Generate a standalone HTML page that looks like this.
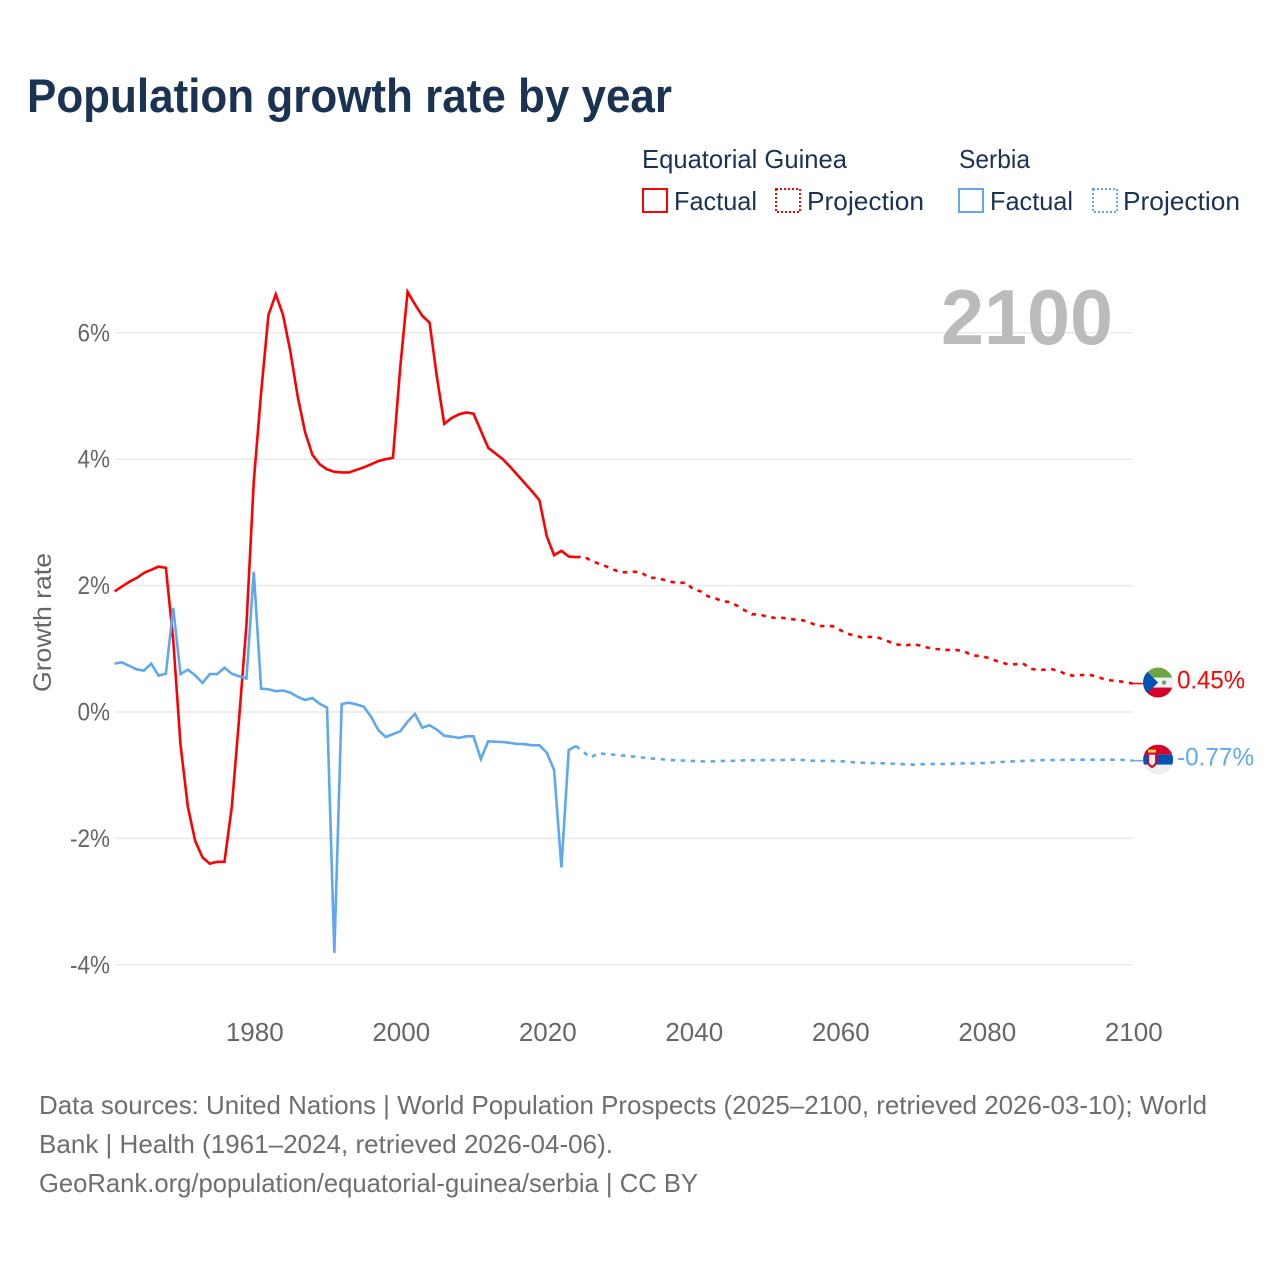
<!DOCTYPE html>
<html lang="en">
<head>
<meta charset="utf-8">
<title>Population growth rate by year</title>
<style>
  html, body { margin: 0; padding: 0; background: #fff; }
  svg { display: block; font-family: "Liberation Sans", sans-serif; }
</style>
</head>
<body>
<svg id="chart" xmlns="http://www.w3.org/2000/svg" width="1280" height="1280" viewBox="0 0 1280 1280">
  <defs>
    <clipPath id="flag-clip-a"><circle cx="0" cy="0" r="15"/></clipPath>
    <clipPath id="flag-clip-b"><circle cx="0" cy="0" r="15"/></clipPath>
  </defs>
  <rect width="1280" height="1280" fill="#fff"/>

  <text x="27" y="112" font-size="47" font-weight="700" fill="#1a3353" textLength="645" lengthAdjust="spacingAndGlyphs">Population growth rate by year</text>

  <g font-size="26" fill="#1a3353">
    <text x="642" y="168" textLength="205" lengthAdjust="spacingAndGlyphs">Equatorial Guinea</text>
    <text x="959" y="168" textLength="71" lengthAdjust="spacingAndGlyphs">Serbia</text>
    <rect x="643" y="189" width="24" height="23" fill="none" stroke="#ff0000" stroke-width="2"/>
    <text x="674" y="210" textLength="83" lengthAdjust="spacingAndGlyphs">Factual</text>
    <rect x="776" y="189" width="24" height="23" fill="none" stroke="#ff0000" stroke-width="2" stroke-dasharray="2 2"/>
    <text x="807" y="210" textLength="117" lengthAdjust="spacingAndGlyphs">Projection</text>
    <rect x="959" y="189" width="24" height="23" fill="none" stroke="#5fa8f0" stroke-width="2"/>
    <text x="990" y="210" textLength="83" lengthAdjust="spacingAndGlyphs">Factual</text>
    <rect x="1093" y="189" width="24" height="23" fill="none" stroke="#5fa8f0" stroke-width="2" stroke-dasharray="2 2"/>
    <text x="1123" y="210" textLength="117" lengthAdjust="spacingAndGlyphs">Projection</text>
  </g>

  <g id="grid"></g>
  <text x="941" y="344" font-size="78" font-weight="700" fill="#bbbbbb" textLength="172" lengthAdjust="spacingAndGlyphs">2100</text>
  <g id="y-labels"></g>
  <g id="x-labels"></g>
  <text transform="translate(51 692) rotate(-90)" font-size="25" fill="#666666" textLength="139" lengthAdjust="spacingAndGlyphs">Growth rate</text>

  <g id="series"></g>

  <g id="flag-eg">
    <g clip-path="url(#flag-clip-a)">
      <rect x="-15" y="-15" width="30" height="30" fill="#f0f0f0"/>
      <rect x="-15" y="-15" width="30" height="10" fill="#6da544"/>
      <rect x="-15" y="5" width="30" height="10" fill="#d80027"/>
      <polygon points="-15,-15 -15,15 0,0" fill="#0052b4"/>
      <polygon points="-15,-11 -15,11 -1,0" fill="#0052b4"/>
      <circle cx="6" cy="0" r="2.2" fill="#7a9a6a"/>
    </g>
  </g>
  <g id="flag-rs">
    <g clip-path="url(#flag-clip-b)">
      <rect x="-15" y="-15" width="30" height="10" fill="#d80027"/>
      <rect x="-15" y="-5" width="30" height="10" fill="#0052b4"/>
      <rect x="-15" y="5" width="30" height="10" fill="#eeeeee"/>
      <rect x="-10" y="-10" width="8" height="3" fill="#ffda44"/>
      <path d="M-11,-7 h10 v9 q0,4 -5,6.5 q-5,-2.5 -5,-6.5 z" fill="#d80027"/>
      <path d="M-9,-5 h6 v7 q0,2.5 -3,4 q-3,-1.5 -3,-4 z" fill="#f0f0f0"/>
    </g>
  </g>
  <g id="end-labels" font-size="25"></g>

  <g font-size="26" fill="#6e6e6e">
    <text x="39" y="1114" textLength="1168" lengthAdjust="spacingAndGlyphs">Data sources: United Nations | World Population Prospects (2025–2100, retrieved 2026-03-10); World</text>
    <text x="39" y="1153" textLength="574" lengthAdjust="spacingAndGlyphs">Bank | Health (1961–2024, retrieved 2026-04-06).</text>
    <text x="39" y="1192" textLength="659" lengthAdjust="spacingAndGlyphs">GeoRank.org/population/equatorial-guinea/serbia | CC BY</text>
  </g>
</svg>

<script>
const factualYears = [1961,1962,1963,1964,1965,1966,1967,1968,1969,1970,1971,1972,1973,1974,1975,1976,1977,1978,1979,1980,1981,1982,1983,1984,1985,1986,1987,1988,1989,1990,1991,1992,1993,1994,1995,1996,1997,1998,1999,2000,2001,2002,2003,2004,2005,2006,2007,2008,2009,2010,2011,2012,2013,2014,2015,2016,2017,2018,2019,2020,2021,2022,2023,2024];
const projectionYears = [2025,2026,2027,2028,2029,2030,2031,2032,2033,2034,2035,2036,2037,2038,2039,2040,2041,2042,2043,2044,2045,2046,2047,2048,2049,2050,2051,2052,2053,2054,2055,2056,2057,2058,2059,2060,2061,2062,2063,2064,2065,2066,2067,2068,2069,2070,2071,2072,2073,2074,2075,2076,2077,2078,2079,2080,2081,2082,2083,2084,2085,2086,2087,2088,2089,2090,2091,2092,2093,2094,2095,2096,2097,2098,2099,2100];

const egFactual = [1.91,1.985,2.06,2.12,2.20,2.25,2.30,2.28,1.14,-0.52,-1.50,-2.04,-2.30,-2.40,-2.37,-2.37,-1.50,-0.10,1.38,3.65,5.05,6.28,6.61,6.28,5.70,4.99,4.43,4.07,3.92,3.84,3.80,3.79,3.79,3.83,3.87,3.92,3.97,4.00,4.02,5.46,6.65,6.45,6.27,6.16,5.30,4.56,4.65,4.71,4.74,4.72,4.45,4.18,4.09,4.00,3.88,3.75,3.62,3.49,3.35,2.78,2.48,2.55,2.46,2.45];
const egProjection = [2.46,2.40,2.35,2.31,2.26,2.21,2.21,2.22,2.20,2.12,2.125,2.09,2.06,2.04,2.05,1.94,1.91,1.83,1.80,1.75,1.74,1.68,1.61,1.545,1.545,1.51,1.49,1.49,1.48,1.46,1.45,1.41,1.36,1.36,1.36,1.30,1.24,1.21,1.18,1.187,1.187,1.145,1.10,1.065,1.05,1.076,1.05,1.018,1.00,0.986,0.98,0.98,0.96,0.897,0.886,0.865,0.823,0.786,0.754,0.754,0.77,0.686,0.665,0.67,0.675,0.649,0.585,0.575,0.585,0.59,0.564,0.522,0.50,0.49,0.47,0.45];
const rsFactual = [0.765,0.785,0.73,0.675,0.655,0.765,0.575,0.605,1.65,0.60,0.67,0.58,0.46,0.60,0.60,0.70,0.605,0.565,0.53,2.22,0.37,0.36,0.33,0.34,0.305,0.24,0.19,0.22,0.13,0.07,-3.81,0.127,0.147,0.12,0.085,-0.074,-0.285,-0.395,-0.35,-0.305,-0.153,-0.03,-0.248,-0.21,-0.28,-0.375,-0.39,-0.41,-0.385,-0.385,-0.744,-0.464,-0.47,-0.475,-0.49,-0.506,-0.51,-0.527,-0.527,-0.644,-0.918,-2.46,-0.60,-0.538];
const rsProjection = [-0.633,-0.72,-0.653,-0.665,-0.675,-0.685,-0.696,-0.707,-0.72,-0.733,-0.74,-0.75,-0.76,-0.765,-0.77,-0.775,-0.78,-0.785,-0.78,-0.775,-0.775,-0.77,-0.765,-0.765,-0.765,-0.76,-0.76,-0.76,-0.755,-0.755,-0.76,-0.77,-0.775,-0.775,-0.775,-0.778,-0.786,-0.797,-0.802,-0.807,-0.812,-0.812,-0.817,-0.823,-0.828,-0.833,-0.828,-0.825,-0.823,-0.823,-0.82,-0.815,-0.812,-0.812,-0.812,-0.805,-0.797,-0.791,-0.786,-0.78,-0.775,-0.77,-0.765,-0.76,-0.76,-0.76,-0.755,-0.755,-0.755,-0.755,-0.755,-0.755,-0.755,-0.755,-0.76,-0.77];

const xTickYears = [1980,2000,2020,2040,2060,2080,2100];
const yTickValues = [6,4,2,0,-2,-4];
const yTickLabels = ["6%","4%","2%","0%","-2%","-4%"];

const SVG_NS = "http://www.w3.org/2000/svg";
const RED = "#ff0000";
const BLUE = "#5fa8f0";

function xScale(year) { return 114.6 + (year - 1961) * 7.325; }
function yScale(value) { return 712 - value * 63.2; }

function make(tag, attrs, parent) {
  const el = document.createElementNS(SVG_NS, tag);
  for (const k in attrs) el.setAttribute(k, attrs[k]);
  parent.appendChild(el);
  return el;
}

function linePath(years, values) {
  return years.map((y, i) => (i ? "L" : "M") + xScale(y).toFixed(2) + " " + yScale(values[i]).toFixed(2)).join(" ");
}

const gridGroup = document.getElementById("grid");
const yLabelGroup = document.getElementById("y-labels");
yTickValues.forEach((v, i) => {
  const line = make("line", { x1: 115, x2: 1133, y1: yScale(v), y2: yScale(v), stroke: "#e9e9e9", "stroke-width": 1.5 }, gridGroup);
  
  
  const label = make("text", { x: 110, y: yScale(v) + 8.5, "text-anchor": "end", "font-size": 25, fill: "#666666" }, yLabelGroup);
  
  
  label.textContent = yTickLabels[i];
  label.setAttribute("textLength", (label.getComputedTextLength() * 0.9).toFixed(1));
  label.setAttribute("lengthAdjust", "spacingAndGlyphs");
});

const xLabelGroup = document.getElementById("x-labels");
xTickYears.forEach(year => {
  const label = make("text", { x: xScale(year) + 1, y: 1041, "text-anchor": "middle", "font-size": 26, fill: "#666666" }, xLabelGroup);
  
  
  label.textContent = year;
});

const seriesGroup = document.getElementById("series");

const egSolid = make("path", { d: linePath(factualYears, egFactual), fill: "none", stroke: RED, "stroke-width": 2.6, "stroke-linejoin": "miter" }, seriesGroup);



const egDash = make("path", { d: linePath(factualYears.slice(-1).concat(projectionYears), egFactual.slice(-1).concat(egProjection)), fill: "none", stroke: RED, "stroke-width": 2.6, "stroke-dasharray": "4.5 5.5" }, seriesGroup);



const rsSolid = make("path", { d: linePath(factualYears, rsFactual), fill: "none", stroke: BLUE, "stroke-width": 2.6, "stroke-linejoin": "miter" }, seriesGroup);



const rsDash = make("path", { d: linePath(factualYears.slice(-1).concat(projectionYears), rsFactual.slice(-1).concat(rsProjection)), fill: "none", stroke: BLUE, "stroke-width": 2.6, "stroke-dasharray": "4.5 5.5" }, seriesGroup);



const endGroup = document.getElementById("end-labels");
const lastYear = projectionYears[projectionYears.length - 1];
const egEnd = egProjection[egProjection.length - 1];
const rsEnd = rsProjection[rsProjection.length - 1];

const egLead = make("line", { x1: xScale(lastYear), x2: xScale(lastYear) + 10, y1: yScale(egEnd), y2: yScale(egEnd), stroke: RED, "stroke-width": 1.5 }, seriesGroup);



const rsLead = make("line", { x1: xScale(lastYear), x2: xScale(lastYear) + 10, y1: yScale(rsEnd), y2: yScale(rsEnd), stroke: BLUE, "stroke-width": 1.5 }, seriesGroup);



document.getElementById("flag-eg").setAttribute("transform", "translate(" + (xScale(lastYear) + 25.3) + " " + (yScale(egEnd) - 1) + ")");
document.getElementById("flag-rs").setAttribute("transform", "translate(" + (xScale(lastYear) + 25.3) + " " + (yScale(rsEnd) - 1) + ")");

const egLabel = make("text", { x: xScale(lastYear) + 44.3, y: yScale(egEnd) + 5, fill: RED }, endGroup);


egLabel.textContent = egEnd.toFixed(2) + "%";
egLabel.setAttribute("textLength", "68");
egLabel.setAttribute("lengthAdjust", "spacingAndGlyphs");

const rsLabel = make("text", { x: xScale(lastYear) + 44.3, y: yScale(rsEnd) + 5, fill: BLUE }, endGroup);


rsLabel.textContent = rsEnd.toFixed(2) + "%";
rsLabel.setAttribute("textLength", "77");
rsLabel.setAttribute("lengthAdjust", "spacingAndGlyphs");
</script>
</body>
</html>
